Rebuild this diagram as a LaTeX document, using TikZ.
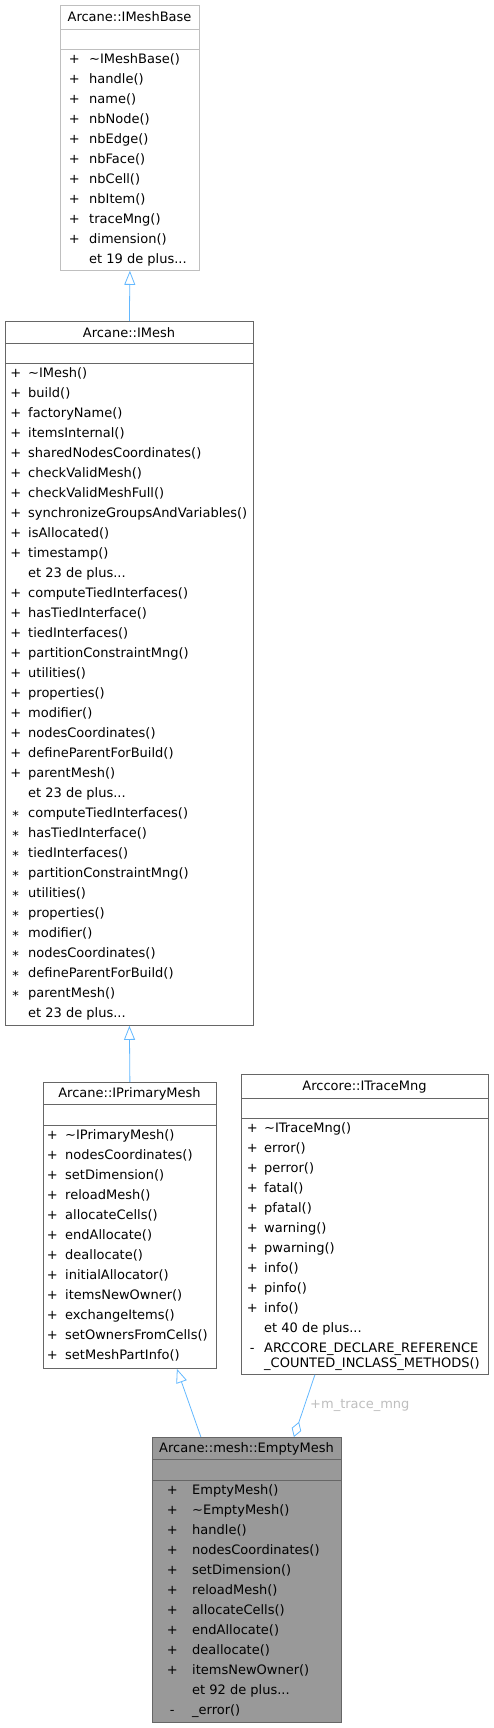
\documentclass[tikz,border=0pt]{standalone}
\usepackage{fontspec}
\setmainfont{DejaVu Sans}
\usepackage{array}
\usetikzlibrary{arrows.meta}
\definecolor{edgeblue}{HTML}{63B8FF}
\definecolor{lightborder}{HTML}{BFBFBF}
\definecolor{darkborder}{HTML}{666666}
\definecolor{fillgray}{HTML}{999999}
\definecolor{labelgray}{HTML}{BEBEBE}
\newcommand\members[2]{\begin{tabular}{@{}wc{12pt}@{\hspace{#1pt}}l@{}}#2\end{tabular}}
\newcommand\starsign{\raisebox{-3.5pt}{*}}
\newcommand\tl{\textasciitilde}

\begin{document}
\begin{tikzpicture}[x=1pt, y=-1pt,
  font=\fontsize{13}{20}\selectfont,
  cls/.style={draw=darkborder, line width=0.8pt, anchor=north west, inner sep=0pt},
  sep/.style={draw=darkborder, line width=0.8pt},
  title/.style={inner sep=0pt, text height=9.5pt, text depth=0pt},
  mlist/.style={anchor=north west, inner sep=0pt},
  inherit/.style={draw=edgeblue, line width=0.8pt, -{Triangle[open, length=14pt, width=11pt]}},
  aggreg/.style={draw=edgeblue, line width=0.8pt, -{Diamond[open, length=16pt, width=10pt]}}]

  \useasboundingbox (0,0) rectangle (493,1728);

  % Arcane::IMeshBase
  \node[cls, draw=lightborder, minimum width=139, minimum height=265] (base) at (60,5) {};
  \draw[sep, draw=lightborder] (base.west |- 0,29) -- (base.east |- 0,29)
    (base.west |- 0,49) -- (base.east |- 0,49);
  \node[title] (baseT) at (129.5,17) {Arcane::IMeshBase};
  \node[mlist] (baseM) at (68,49) {\members{9}{
    + & \tl IMeshBase()\\ + & handle()\\ + & name()\\ + & nbNode()\\
    + & nbEdge()\\ + & nbFace()\\ + & nbCell()\\ + & nbItem()\\
    + & traceMng()\\ + & dimension()\\ & et 19 de plus...}};

  % Arcane::IMesh
  \node[cls, minimum width=248, minimum height=704] (imesh) at (5,321) {};
  \draw[sep] (imesh.west |- 0,343) -- (imesh.east |- 0,343)
    (imesh.west |- 0,363) -- (imesh.east |- 0,363);
  \node[title] (imeshT) at (129,333) {Arcane::IMesh};
  \node[mlist] (imeshM) at (9.5,363) {\members{6.5}{
    + & \tl IMesh()\\ + & build()\\ + & factoryName()\\ + & itemsInternal()\\
    + & sharedNodesCoordinates()\\ + & checkValidMesh()\\ + & checkValidMeshFull()\\
    + & synchronizeGroupsAndVariables()\\ + & isAllocated()\\ + & timestamp()\\
    & et 23 de plus...\\
    + & computeTiedInterfaces()\\ + & hasTiedInterface()\\ + & tiedInterfaces()\\
    + & partitionConstraintMng()\\ + & utilities()\\ + & properties()\\
    + & modifier()\\ + & nodesCoordinates()\\ + & defineParentForBuild()\\
    + & parentMesh()\\ & et 23 de plus...\\
    \starsign & computeTiedInterfaces()\\ \starsign & hasTiedInterface()\\
    \starsign & tiedInterfaces()\\ \starsign & partitionConstraintMng()\\
    \starsign & utilities()\\ \starsign & properties()\\ \starsign & modifier()\\
    \starsign & nodesCoordinates()\\ \starsign & defineParentForBuild()\\
    \starsign & parentMesh()\\ & et 23 de plus...}};

  % Arcane::IPrimaryMesh
  \node[cls, minimum width=173, minimum height=286] (prim) at (43,1082) {};
  \draw[sep] (prim.west |- 0,1104) -- (prim.east |- 0,1104)
    (prim.west |- 0,1125) -- (prim.east |- 0,1125);
  \node[title] (primT) at (129.5,1093) {Arcane::IPrimaryMesh};
  \node[mlist] (primM) at (46,1125) {\members{7}{
    + & \tl IPrimaryMesh()\\ + & nodesCoordinates()\\ + & setDimension()\\
    + & reloadMesh()\\ + & allocateCells()\\ + & endAllocate()\\
    + & deallocate()\\ + & initialAllocator()\\ + & itemsNewOwner()\\
    + & exchangeItems()\\ + & setOwnersFromCells()\\ + & setMeshPartInfo()}};

  % Arccore::ITraceMng
  \node[cls, minimum width=247, minimum height=300] (trace) at (241,1074) {};
  \draw[sep] (trace.west |- 0,1098) -- (trace.east |- 0,1098)
    (trace.west |- 0,1118) -- (trace.east |- 0,1118);
  \node[title] (traceT) at (364.5,1086) {Arccore::ITraceMng};
  \node[mlist] (traceM) at (246,1118) {\members{6}{
    + & \tl ITraceMng()\\ + & error()\\ + & perror()\\ + & fatal()\\
    + & pfatal()\\ + & warning()\\ + & pwarning()\\ + & info()\\
    + & pinfo()\\ + & info()\\ & et 40 de plus...\\
    - & \parbox[t]{225pt}{\fontsize{13}{15}\selectfont
      ARCCORE\_DECLARE\_REFERENCE\\\_COUNTED\_INCLASS\_METHODS()}}};

  % Arcane::mesh::EmptyMesh
  \node[cls, fill=fillgray, minimum width=189, minimum height=285] (empty) at (152,1437) {};
  \draw[sep] (empty.west |- 0,1459) -- (empty.east |- 0,1459)
    (empty.west |- 0,1480) -- (empty.east |- 0,1480);
  \node[title] (emptyT) at (246.5,1448) {Arcane::mesh::EmptyMesh};
  \node[mlist] (emptyM) at (166,1480) {\members{14}{
    + & EmptyMesh()\\ + & \tl EmptyMesh()\\ + & handle()\\
    + & nodesCoordinates()\\ + & setDimension()\\ + & reloadMesh()\\
    + & allocateCells()\\ + & endAllocate()\\ + & deallocate()\\
    + & itemsNewOwner()\\ & et 92 de plus...\\ - & \_error()}};

  % relations
  \draw[inherit] (imesh.north) -- (base.south);
  \draw[inherit] (prim.north) -- (imesh.south);
  \draw[inherit] ([xshift=-46]empty.north) -- ([xshift=47]prim.south);
  \draw[aggreg] ([xshift=-50]trace.south) -- ([xshift=47]empty.north);
  \node[labelgray, anchor=west, inner sep=0pt] (traceL) at (310,1405) {+m\_trace\_mng};
\end{tikzpicture}
\end{document}
